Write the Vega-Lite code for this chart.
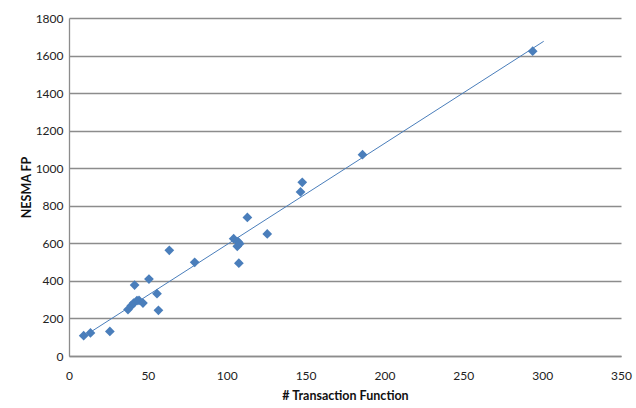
{
  "$schema": "https://vega.github.io/schema/vega-lite/v6.json",
  "autosize": "none",
  "width": 552,
  "height": 338,
  "padding": {"left": 69, "top": 18, "right": 15, "bottom": 52},
  "background": "white",
  "config": {
    "view": {"stroke": null},
    "font": "Lato",
    "axis": {
      "labelFont": "Lato",
      "labelFontSize": 12,
      "labelColor": "#222222",
      "labelOverlap": false,
      "labelFlush": false,
      "format": "d",
      "titleFont": "Lato",
      "titleFontSize": 12.5,
      "titleFontWeight": "bold",
      "titleColor": "#111111",
      "domainColor": "#8c8c8c",
      "domainWidth": 1.3,
      "gridColor": "#8c8c8c",
      "gridWidth": 1.3,
      "ticks": false,
      "tickSize": 0
    }
  },
  "datasets": {
    "pts": [
      {"tf": 9.3, "fp": 108},
      {"tf": 13.6, "fp": 123},
      {"tf": 25.9, "fp": 131},
      {"tf": 37.4, "fp": 247},
      {"tf": 39.5, "fp": 268},
      {"tf": 41.0, "fp": 282},
      {"tf": 43.1, "fp": 295},
      {"tf": 44.4, "fp": 296},
      {"tf": 46.9, "fp": 282},
      {"tf": 41.6, "fp": 378},
      {"tf": 50.7, "fp": 410},
      {"tf": 55.8, "fp": 332},
      {"tf": 56.7, "fp": 243},
      {"tf": 63.6, "fp": 563},
      {"tf": 79.7, "fp": 499},
      {"tf": 104.4, "fp": 625},
      {"tf": 107.2, "fp": 609},
      {"tf": 106.7, "fp": 584},
      {"tf": 108.2, "fp": 598},
      {"tf": 107.7, "fp": 494},
      {"tf": 113.1, "fp": 738},
      {"tf": 125.7, "fp": 650},
      {"tf": 146.8, "fp": 874},
      {"tf": 147.9, "fp": 925},
      {"tf": 186.1, "fp": 1072},
      {"tf": 294.0, "fp": 1623}
    ],
    "trend": [
      {"tf": 9.3, "fp": 104},
      {"tf": 301, "fp": 1676}
    ]
  },
  "encoding": {
    "x": {
      "field": "tf", "type": "quantitative",
      "scale": {"domain": [0, 350], "nice": false, "zero": true},
      "axis": {"title": "# Transaction Function", "values": [0, 50, 100, 150, 200, 250, 300, 350], "tickCount": 20, "grid": false, "labelPadding": 14, "titlePadding": 8}
    },
    "y": {
      "field": "fp", "type": "quantitative",
      "scale": {"domain": [0, 1800], "nice": false},
      "axis": {"title": "NESMA FP", "values": [0, 200, 400, 600, 800, 1000, 1200, 1400, 1600, 1800], "tickCount": 20, "grid": true, "labelPadding": 6, "titlePadding": 2}
    }
  },
  "layer": [
    {
      "data": {"name": "trend"},
      "mark": {"type": "line", "color": "#4A7EBB", "strokeWidth": 1}
    },
    {
      "data": {"name": "pts"},
      "mark": {"type": "point", "shape": "diamond", "filled": true, "size": 95, "color": "#4A7EBB", "opacity": 1}
    }
  ]
}
